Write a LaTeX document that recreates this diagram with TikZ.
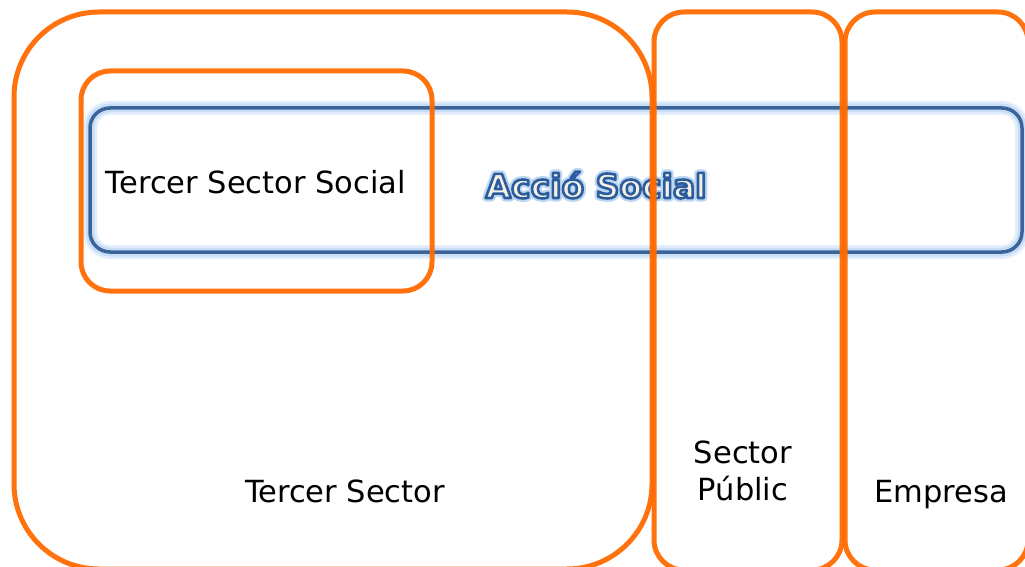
\documentclass[tikz,border=0pt]{standalone}
\usepackage{fontspec}
\setmainfont{DejaVu Sans}
\definecolor{orng}{HTML}{FF6A00}
\definecolor{bluestroke}{HTML}{3C6399}
\definecolor{blueglow}{HTML}{B4D2F4}
\definecolor{cream}{HTML}{F4F1E2}
\newcommand{\outlinedtext}[1]{\special{pdf:literal direct 2 Tr 2.6 w 1 j 0.17 0.36 0.62 RG}#1\special{pdf:literal direct 0 Tr}}
\newcommand{\glowtext}[1]{\special{pdf:literal direct 1 Tr 7 w 1 j 0.74 0.84 0.95 RG}#1\special{pdf:literal direct 0 Tr}}
\begin{document}
\begin{tikzpicture}[x=1pt,y=-1pt,
  orangebox/.style={draw=orng, line width=5pt, opacity=0.95},
  bluebox/.style={rounded corners=20pt},
  lbl/.style={font=\fontsize{30.5}{37}\selectfont, text=black, inner sep=0pt, align=center},
  acc/.style={font=\fontsize{33}{38}\selectfont\bfseries, inner sep=0pt, anchor=base},
]
\useasboundingbox (0,0) rectangle (1025,567);
% Accio Social box with glow
\draw[bluebox, blueglow, line width=14pt, opacity=0.35] (90,108) rectangle (1022,252);
\draw[bluebox, blueglow, line width=9pt, opacity=0.6] (90,108) rectangle (1022,252);
\draw[bluebox, bluestroke, line width=3.5pt] (90,108) rectangle (1022,252);
% Accio Social text: soft glow under an outlined, cream-filled title
\node[acc, text=cream] (accglow) at (596,198) {\glowtext{Acció Social}};
\node[acc, text=cream] (acc) at (596,198) {\outlinedtext{Acció Social}};
% labels
\node[lbl, anchor=base] (tss) at (256,193) {Tercer Sector Social};
\node[lbl, anchor=base] (ts) at (345,502) {Tercer Sector};
\node[lbl, anchor=center] (sp) at (743,471) {Sector\\Públic};
\node[lbl, anchor=base] (emp) at (941,502) {Empresa};
% orange boxes
\draw[orangebox, rounded corners=85pt] (14,12) rectangle (652,569);
\draw[orangebox, rounded corners=29pt] (81,71) rectangle (432,291);
\draw[orangebox, rounded corners=30pt] (654,12) rectangle (842,570);
\draw[orangebox, rounded corners=30pt] (845,12) rectangle (1028,570);
\end{tikzpicture}
\end{document}
